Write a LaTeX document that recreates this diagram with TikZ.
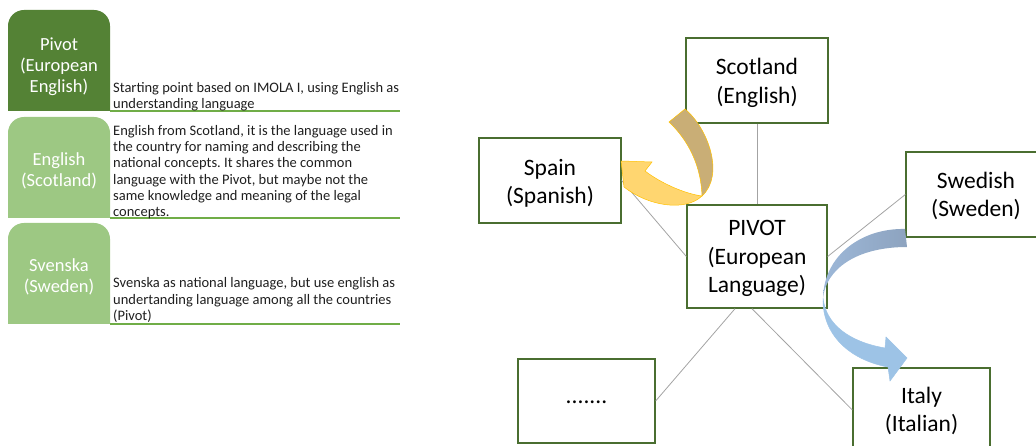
\documentclass[tikz,border=0pt]{standalone}
\usepackage{fontspec}
\setmainfont{Carlito}
\usetikzlibrary{calc}
\frenchspacing

\definecolor{tabdark}{HTML}{548235}
\definecolor{tablight}{HTML}{9DC883}
\definecolor{rulegreen}{HTML}{70AD47}
\definecolor{boxedge}{HTML}{4A6E30}
\definecolor{linkgray}{HTML}{A3A3A3}
\definecolor{goldback}{HTML}{C9AE76}
\definecolor{goldfront}{HTML}{FFD670}
\definecolor{goldedge}{HTML}{FFC000}
\definecolor{blueback}{HTML}{8DA3BF}
\definecolor{bluebackl}{HTML}{9DB8D8}
\definecolor{bluefront}{HTML}{9DC3E6}

\tikzset{
  tablabel/.style={text=white, align=center, inner sep=0pt,
    font=\fontsize{18.5bp}{21bp}\selectfont},
  desctext/.style={anchor=north west, align=left, inner sep=0pt, text=black!88,
    font=\fontsize{14.5bp}{16.3bp}\selectfont},
  langbox/.style={draw=boxedge, line width=1.8bp, fill=white, inner sep=0pt},
  langtext/.style={align=center, inner sep=0pt,
    font=\fontsize{23.5bp}{28.5bp}\selectfont},
  link/.style={draw=linkgray, line width=0.8bp},
  tabrule/.style={draw=rulegreen, line width=1.8bp},
}

\begin{document}
\begin{tikzpicture}[x=1bp, y=-1bp]
\useasboundingbox (0,0) rectangle (1036,446);
\clip (0,0) rectangle (1036,446);

% ---- left: three tabs with their descriptions ----
\fill[tabdark] (8,111) [rounded corners=16] -- (8,10) -- (110,10) [sharp corners] -- (110,111) -- cycle;
\fill[tablight] (8,218) [rounded corners=16] -- (8,117) -- (110,117) [sharp corners] -- (110,218) -- cycle;
\fill[tablight] (8,324) [rounded corners=16] -- (8,223) -- (110,223) [sharp corners] -- (110,324) -- cycle;

\draw[tabrule] (110,111) -- (400,111);
\draw[tabrule] (110,218) -- (400,218);
\draw[tabrule] (110,324) -- (400,324);

\node[tablabel] (tab1) at (59,66.5) {Pivot\\(European\\English)};
\node[tablabel] (tab2) at (59,171) {English\\(Scotland)};
\node[tablabel] (tab3) at (59,277) {Svenska\\(Sweden)};

\node[desctext] (desc1) at (113,82) {Starting point based on IMOLA I, using English as\\understanding language};
\node[desctext] (desc2) at (113,125) {English from Scotland, it is the language used in\\the country for naming and describing the\\national concepts. It shares the common\\language with the Pivot, but maybe not the\\same knowledge and meaning of the legal\\concepts.};
\node[desctext] (desc3) at (113,277.5) {Svenska as national language, but use english as\\undertanding language among all the countries\\(Pivot)};

% ---- right: language boxes around the pivot ----
\node[langbox, minimum width=142, minimum height=85] (scot) at (757,80.5) {};
\node[langbox, minimum width=142, minimum height=85] (spain) at (550,180.5) {};
\node[langbox, minimum width=140, minimum height=103] (pivot) at (757,256.5) {};
\node[langbox, minimum width=140, minimum height=85] (swed) at (976,194.5) {};
\node[langbox, minimum width=137, minimum height=84] (dots) at (586.5,401) {};
\node[langbox, minimum width=137, minimum height=84] (italy) at (921.5,410) {};

\node[langtext] (scottext) at ($(scot.center)+(0,2.5)$) {Scotland\\(English)};
\node[langtext] (spaintext) at ($(spain.center)+(0,3)$) {Spain\\(Spanish)};
\node[langtext] (pivottext) at ($(pivot.center)+(0,2)$) {PIVOT\\(European\\Language)};
\node[langtext] (swedtext) at ($(swed.center)+(0,1.5)$) {Swedish\\(Sweden)};
\node[langtext] (dotstext) at ($(dots.center)+(0,1)$) {.......};
\node[langtext] (italytext) at ($(italy.center)+(0,1)$) {Italy\\(Italian)};

\draw[link] (scot.south) -- (pivot.north);
\draw[link] (spain.east) -- (pivot.west);
\draw[link] (swed.west) -- (pivot.east);
\draw[link] ($(pivot.south)+(-22,0)$) -- (dots.east);
\draw[link] ($(pivot.south)+(-5,0)$) -- (italy.west);

% ---- twisted arrow from Scotland towards Spain ----
\filldraw[fill=goldback, draw=goldedge, line width=0.5bp]
  (669,122) -- (685,109) .. controls (708,128) and (725,175) .. (702,196)
  .. controls (701,165) and (688,140) .. (669,122) -- cycle;
\filldraw[fill=goldfront, draw=goldedge, line width=0.5bp]
  (702,196) .. controls (685,212) and (648,206) .. (624,187)
  -- (621,161) -- (652,162) -- (645,171)
  .. controls (662,184) and (686,194) .. (702,196) -- cycle;

% ---- twisted arrow from Swedish towards Italy ----
\shade[left color=bluebackl, right color=blueback]
  (905,229) .. controls (862,228) and (824,255) .. (823,298)
  .. controls (826,270) and (855,247) .. (907,247) -- cycle;
\filldraw[fill=bluefront, draw=bluefront, line width=0.5bp]
  (823,298) .. controls (822,335) and (850,360) .. (888,367)
  -- (890,381) -- (907,358) -- (886,337) -- (885,348)
  .. controls (850,342) and (826,325) .. (823,298) -- cycle;
\end{tikzpicture}
\end{document}
